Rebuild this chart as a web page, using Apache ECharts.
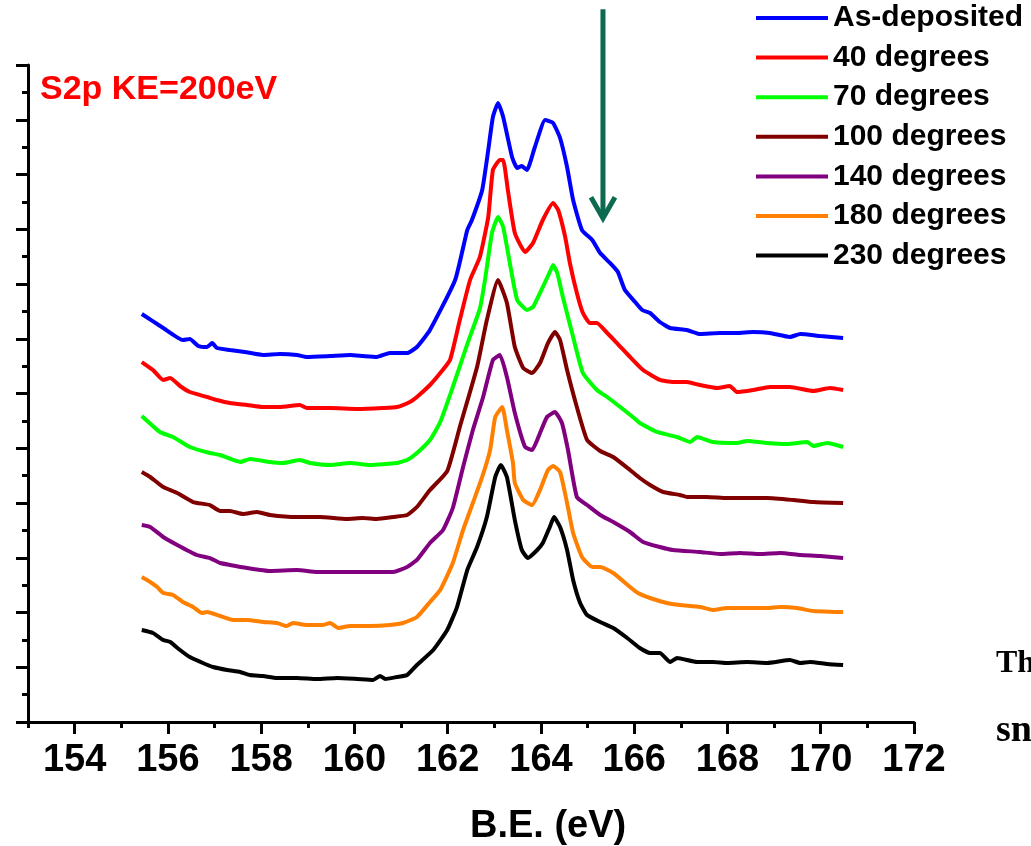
<!DOCTYPE html>
<html>
<head>
<meta charset="utf-8">
<script src="https://cdn.jsdelivr.net/npm/echarts@6/dist/echarts.min.js"></script>
<style>
  html, body { margin: 0; padding: 0; background: #ffffff; }
  #chart { width: 1031px; height: 846px; }
</style>
</head>
<body>
<div id="chart"></div>
<script>
// S 2p spectra, binding energy (eV) vs. intensity (arb. units, stacked offsets)
const seriesNames = ['As-deposited', '40 degrees', '70 degrees', '100 degrees', '140 degrees', '180 degrees', '230 degrees'];
const seriesColors = ['#0000ff', '#ff0000', '#00ff00', '#800000', '#800080', '#ff8000', '#000000'];
const energyTicks = [154, 156, 158, 160, 162, 164, 166, 168, 170, 172];

const asDeposited = [
  [155.44, 7.452], [155.90, 7.196], [156.32, 6.977], [156.47, 6.995], [156.65, 6.868], [156.84, 6.849],
  [156.95, 6.922], [157.05, 6.831], [157.33, 6.795], [157.65, 6.758], [158.04, 6.703], [158.40, 6.721],
  [158.77, 6.703], [158.98, 6.667], [159.48, 6.685], [159.91, 6.703], [160.18, 6.685], [160.48, 6.667],
  [160.76, 6.740], [161.13, 6.740], [161.34, 6.849], [161.62, 7.160], [162.16, 8.073], [162.42, 8.986],
  [162.52, 9.169], [162.74, 9.717], [162.87, 10.447], [162.97, 11.050], [163.08, 11.306], [163.19, 11.050],
  [163.38, 10.320], [163.49, 10.119], [163.59, 10.155], [163.70, 10.082], [163.87, 10.502], [164.09, 10.995],
  [164.26, 10.941], [164.41, 10.667], [164.56, 10.137], [164.69, 9.534], [164.88, 8.986], [165.10, 8.804],
  [165.27, 8.566], [165.48, 8.384], [165.65, 8.219], [165.80, 7.890], [166.02, 7.671], [166.17, 7.525],
  [166.34, 7.470], [166.55, 7.306], [166.77, 7.196], [167.13, 7.160], [167.41, 7.087], [167.84, 7.105],
  [168.20, 7.105], [168.55, 7.123], [168.91, 7.105], [169.34, 7.032], [169.56, 7.087], [169.99, 7.050],
  [170.48, 7.014]
];

const deg40 = [
  [155.44, 6.575], [155.68, 6.429], [155.90, 6.247], [156.05, 6.283], [156.26, 6.137], [156.47, 6.027],
  [156.84, 5.936], [157.05, 5.881], [157.33, 5.826], [157.70, 5.790], [158.04, 5.753], [158.40, 5.753],
  [158.83, 5.790], [158.98, 5.735], [159.48, 5.735], [160.06, 5.717], [160.61, 5.735], [160.91, 5.753],
  [161.19, 5.845], [161.34, 5.936], [161.62, 6.155], [161.84, 6.374], [162.05, 6.612], [162.26, 7.342],
  [162.48, 8.073], [162.69, 8.493], [162.87, 9.224], [162.97, 10.082], [163.12, 10.265], [163.19, 10.265],
  [163.29, 9.717], [163.44, 8.932], [163.66, 8.584], [163.83, 8.749], [164.04, 9.169], [164.26, 9.479],
  [164.37, 9.352], [164.52, 8.858], [164.62, 8.384], [164.77, 7.836], [164.90, 7.470], [165.05, 7.288],
  [165.20, 7.288], [165.42, 7.105], [165.63, 6.922], [165.91, 6.667], [166.19, 6.429], [166.55, 6.247],
  [166.83, 6.210], [167.13, 6.210], [167.41, 6.155], [167.78, 6.100], [168.05, 6.137], [168.20, 6.027],
  [168.55, 6.064], [168.91, 6.119], [169.34, 6.119], [169.84, 6.046], [170.20, 6.100], [170.48, 6.064]
];

const deg70 = [
  [155.44, 5.589], [155.83, 5.297], [156.11, 5.205], [156.47, 5.023], [156.90, 4.913], [157.12, 4.877],
  [157.55, 4.749], [157.76, 4.804], [158.19, 4.749], [158.47, 4.731], [158.83, 4.785], [159.05, 4.731],
  [159.48, 4.694], [159.91, 4.731], [160.33, 4.694], [160.91, 4.731], [161.13, 4.785], [161.34, 4.913],
  [161.62, 5.151], [161.84, 5.479], [162.11, 6.119], [162.42, 6.900], [162.69, 7.550], [162.80, 8.073],
  [162.95, 8.932], [163.08, 9.224], [163.19, 9.041], [163.34, 8.347], [163.49, 7.708], [163.70, 7.525],
  [163.83, 7.580], [164.04, 7.945], [164.19, 8.219], [164.26, 8.347], [164.35, 8.201], [164.47, 7.763],
  [164.69, 7.032], [164.90, 6.374], [165.20, 6.064], [165.42, 5.936], [165.70, 5.753], [165.97, 5.571],
  [166.12, 5.461], [166.49, 5.297], [166.92, 5.205], [167.20, 5.114], [167.35, 5.205], [167.69, 5.114],
  [168.20, 5.096], [168.42, 5.132], [168.85, 5.096], [169.28, 5.078], [169.71, 5.114], [169.84, 5.041],
  [170.14, 5.096], [170.48, 5.023]
];

const deg100 = [
  [155.44, 4.566], [155.62, 4.475], [155.90, 4.292], [156.20, 4.183], [156.54, 4.018], [156.90, 3.963],
  [157.12, 3.854], [157.33, 3.854], [157.61, 3.799], [157.91, 3.836], [158.19, 3.781], [158.77, 3.744],
  [159.26, 3.744], [159.84, 3.708], [160.18, 3.726], [160.48, 3.708], [160.83, 3.744], [161.13, 3.781],
  [161.34, 3.927], [161.62, 4.237], [161.99, 4.584], [162.26, 5.388], [162.63, 6.484], [162.84, 7.342],
  [163.08, 8.073], [163.27, 7.653], [163.44, 6.849], [163.62, 6.466], [163.81, 6.374], [163.98, 6.557],
  [164.15, 6.922], [164.30, 7.123], [164.41, 6.977], [164.56, 6.429], [164.77, 5.753], [164.99, 5.151],
  [165.27, 4.950], [165.55, 4.840], [165.91, 4.603], [166.12, 4.457], [166.34, 4.329], [166.62, 4.201],
  [166.98, 4.146], [167.13, 4.110], [167.56, 4.110], [167.99, 4.091], [168.42, 4.091], [168.85, 4.091],
  [169.41, 4.055], [169.84, 4.018], [170.48, 4.000]
];

const deg140 = [
  [155.44, 3.598], [155.62, 3.562], [155.90, 3.379], [156.20, 3.233], [156.62, 3.050], [156.90, 2.995],
  [157.12, 2.904], [157.33, 2.868], [157.70, 2.813], [158.19, 2.758], [158.77, 2.776], [159.20, 2.740],
  [159.84, 2.740], [160.33, 2.740], [160.83, 2.740], [161.13, 2.831], [161.34, 2.959], [161.62, 3.269],
  [161.90, 3.507], [162.11, 3.909], [162.33, 4.658], [162.54, 5.333], [162.76, 5.936], [162.97, 6.612],
  [163.12, 6.703], [163.27, 6.301], [163.44, 5.644], [163.66, 5.023], [163.81, 4.968], [163.98, 5.279],
  [164.13, 5.571], [164.30, 5.662], [164.45, 5.461], [164.58, 4.968], [164.77, 4.110], [164.99, 3.963],
  [165.27, 3.781], [165.55, 3.653], [165.91, 3.470], [166.19, 3.288], [166.55, 3.196], [166.83, 3.142],
  [167.41, 3.105], [167.84, 3.068], [168.27, 3.087], [168.70, 3.068], [169.13, 3.087], [169.56, 3.050],
  [169.99, 3.032], [170.48, 2.995]
];

const deg180 = [
  [155.44, 2.648], [155.62, 2.557], [155.77, 2.466], [155.90, 2.356], [156.11, 2.320], [156.32, 2.192],
  [156.54, 2.100], [156.73, 1.991], [156.84, 2.009], [157.12, 1.936], [157.40, 1.863], [157.70, 1.863],
  [158.04, 1.826], [158.34, 1.808], [158.55, 1.753], [158.68, 1.808], [158.98, 1.772], [159.33, 1.772],
  [159.48, 1.808], [159.65, 1.717], [159.91, 1.753], [160.33, 1.753], [160.76, 1.772], [161.04, 1.808],
  [161.34, 1.918], [161.62, 2.192], [161.84, 2.411], [162.11, 2.904], [162.33, 3.507], [162.54, 4.000],
  [162.74, 4.475], [162.91, 4.968], [163.02, 5.571], [163.17, 5.753], [163.27, 5.333], [163.40, 4.731],
  [163.44, 4.365], [163.62, 4.055], [163.81, 3.963], [163.98, 4.237], [164.15, 4.603], [164.26, 4.676],
  [164.41, 4.566], [164.56, 4.000], [164.69, 3.452], [164.88, 3.014], [165.10, 2.831], [165.27, 2.831],
  [165.55, 2.721], [165.91, 2.466], [166.08, 2.356], [166.34, 2.265], [166.70, 2.174], [166.98, 2.137],
  [167.41, 2.100], [167.69, 2.046], [167.99, 2.082], [168.42, 2.082], [168.85, 2.082], [169.13, 2.100],
  [169.49, 2.082], [169.84, 2.027], [170.48, 2.009]
];

const deg230 = [
  [155.44, 1.680], [155.68, 1.626], [155.90, 1.498], [156.05, 1.461], [156.26, 1.315], [156.47, 1.187],
  [156.75, 1.078], [156.97, 1.005], [157.27, 0.950], [157.55, 0.913], [157.76, 0.858], [158.04, 0.840],
  [158.34, 0.804], [158.77, 0.804], [159.20, 0.785], [159.63, 0.804], [160.06, 0.785], [160.40, 0.767],
  [160.55, 0.840], [160.66, 0.785], [160.91, 0.822], [161.13, 0.858], [161.34, 1.041], [161.69, 1.315],
  [161.99, 1.680], [162.20, 2.100], [162.42, 2.776], [162.63, 3.196], [162.84, 3.744], [163.02, 4.475],
  [163.14, 4.694], [163.27, 4.475], [163.44, 3.689], [163.59, 3.142], [163.72, 2.995], [163.92, 3.142],
  [164.04, 3.269], [164.19, 3.562], [164.28, 3.744], [164.41, 3.562], [164.56, 3.142], [164.69, 2.594],
  [164.84, 2.174], [164.99, 1.954], [165.27, 1.826], [165.55, 1.717], [165.85, 1.534], [166.12, 1.352],
  [166.34, 1.260], [166.55, 1.260], [166.77, 1.096], [166.92, 1.169], [167.35, 1.096], [167.69, 1.096],
  [167.99, 1.078], [168.42, 1.096], [168.85, 1.078], [169.34, 1.132], [169.56, 1.078], [169.77, 1.096],
  [170.14, 1.059], [170.48, 1.041]
];

const spectra = [asDeposited, deg40, deg70, deg100, deg140, deg180, deg230];

// Arrow marking the high-energy shoulder: [energy, top intensity, tip intensity]
const arrowEnergy = 165.33;
const arrowTop = 13.02;
const arrowTip = 9.2;

const chart = echarts.init(document.getElementById('chart'), null, { renderer: 'canvas' });
const sans = '"Liberation Sans", Arial, sans-serif';
const serif = '"Liberation Serif", "Times New Roman", serif';

const option = {
  animation: false,
  backgroundColor: '#ffffff',
  grid: { left: 28, right: 117, top: 65, bottom: 124, containLabel: false },
  legend: {
    orient: 'vertical',
    left: 756,
    top: 3,
    padding: 0,
    itemWidth: 72,
    itemHeight: 4,
    itemGap: 9.6,
    icon: 'rect',
    data: seriesNames,
    textStyle: { fontSize: 30, fontWeight: 'bold', fontFamily: sans, color: '#000', lineHeight: 30 }
  },
  xAxis: [
    {
      type: 'value', min: 153, max: 172, interval: 1,
      axisLine: { show: true, lineStyle: { color: '#000', width: 3 } },
      axisTick: { show: true, length: 6, lineStyle: { color: '#000', width: 3 } },
      axisLabel: {
        fontSize: 38, fontWeight: 'bold', fontFamily: sans, color: '#000', margin: 20,
        formatter: v => (energyTicks.indexOf(v) >= 0 ? String(v) : '')
      },
      splitLine: { show: false }
    },
    {
      type: 'value', min: 153, max: 172, position: 'bottom', offset: 0,
      axisLine: { show: false },
      axisTick: { show: true, customValues: energyTicks, length: 12, lineStyle: { color: '#000', width: 3 } },
      axisLabel: { show: false },
      splitLine: { show: false }
    }
  ],
  yAxis: {
    type: 'value', min: 0, max: 12, interval: 1,
    axisLine: { show: true, lineStyle: { color: '#000', width: 3 } },
    axisTick: { show: true, length: 12, lineStyle: { color: '#000', width: 3 } },
    minorTick: { show: true, splitNumber: 2, length: 6, lineStyle: { color: '#000', width: 3 } },
    axisLabel: { show: false },
    splitLine: { show: false },
    minorSplitLine: { show: false }
  },
  series: seriesNames.map((name, i) => ({
    name: name,
    type: 'line',
    xAxisIndex: 0,
    data: spectra[i],
    showSymbol: false,
    smooth: 0.15,
    color: seriesColors[i],
    lineStyle: { width: 4, color: seriesColors[i] },
    z: 10 - i
  })),
  graphic: [
    {
      type: 'text', left: 40, top: 73,
      style: { text: 'S2p KE=200eV', fill: '#ff0000', font: 'bold 34px ' + sans }
    },
    {
      type: 'text', left: 470, top: 808,
      style: { text: 'B.E. (eV)', fill: '#000', font: 'bold 38px ' + sans }
    },
    {
      type: 'text', left: 996, top: 648,
      style: { text: 'Th', fill: '#000', font: 'bold 32px ' + serif }
    },
    {
      type: 'text', left: 996, top: 712,
      style: { text: 'sn', fill: '#000', font: 'bold 38px ' + serif }
    }
  ]
};

chart.setOption(option);

// Annotation arrow, placed through the axes' own scales
const arrowStart = chart.convertToPixel({ xAxisIndex: 0, yAxisIndex: 0 }, [arrowEnergy, arrowTop]);
const arrowEnd = chart.convertToPixel({ xAxisIndex: 0, yAxisIndex: 0 }, [arrowEnergy, arrowTip]);
const arrowColor = '#0b6a4f';
chart.setOption({
  graphic: [
    {
      type: 'line', id: 'arrowShaft', silent: true,
      shape: { x1: arrowStart[0], y1: arrowStart[1], x2: arrowEnd[0], y2: arrowEnd[1] - 2 },
      style: { stroke: arrowColor, lineWidth: 5 }
    },
    {
      type: 'polyline', id: 'arrowHead', silent: true,
      shape: { points: [[arrowEnd[0] - 12, arrowEnd[1] - 21], [arrowEnd[0], arrowEnd[1]], [arrowEnd[0] + 12, arrowEnd[1] - 21]] },
      style: { stroke: arrowColor, lineWidth: 5, fill: null, lineJoin: 'miter' }
    }
  ]
});
</script>
</body>
</html>
